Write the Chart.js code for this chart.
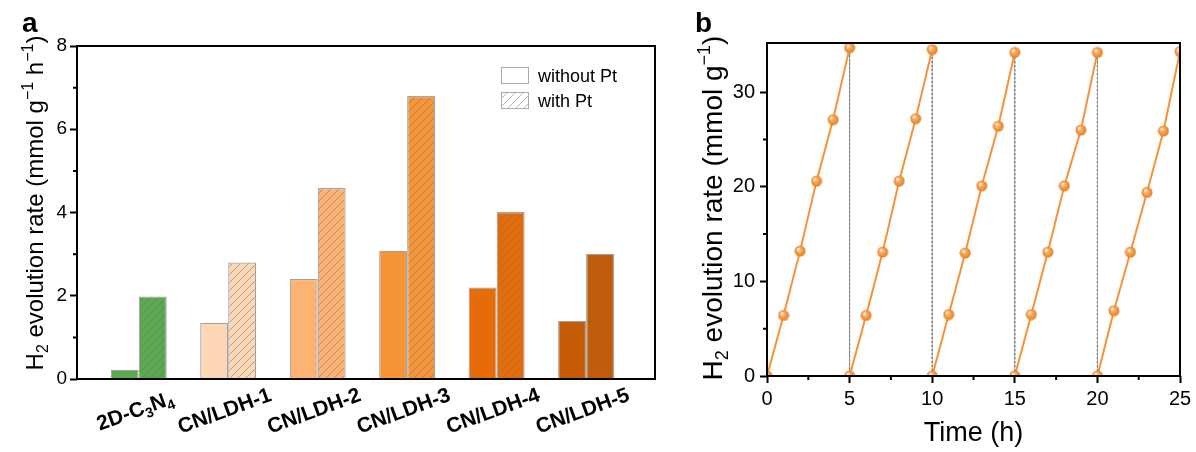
<!DOCTYPE html>
<html>
<head>
<meta charset="utf-8">
<script src="https://cdn.jsdelivr.net/npm/chart.js@4.4.0/dist/chart.umd.min.js"></script>
<style>
  html, body { margin: 0; padding: 0; background: #fff; }
  #wrap { position: relative; width: 1196px; height: 452px; }
  #ca { position: absolute; left: 0; top: 0; }
  #cb { position: absolute; left: 680px; top: 0; }
</style>
</head>
<body>
<div id="wrap">
  <canvas id="ca" width="680" height="452"></canvas>
  <canvas id="cb" width="516" height="452"></canvas>
</div>
<script>
// ---- panel a data ----
const categories = ['2D-C_{3}N_{4}', 'CN/LDH-1', 'CN/LDH-2', 'CN/LDH-3', 'CN/LDH-4', 'CN/LDH-5'];
const withoutPt = [0.22, 1.35, 2.40, 3.08, 2.20, 1.40];
const withPt = [1.98, 2.80, 4.59, 6.80, 4.01, 3.01];
const yMinorA = [1, 3, 5, 7];

// ---- panel b data ----
const cycleStart = [0, 5, 10, 15, 20];
const cycleHours = [0, 1, 2, 3, 4, 5];
const cycle1 = [0, 6.4, 13.2, 20.6, 27.1, 34.7];
const cycle2 = [0, 6.4, 13.1, 20.6, 27.2, 34.5];
const cycle3 = [0, 6.5, 13.0, 20.1, 26.4, 34.2];
const cycle4 = [0, 6.5, 13.1, 20.1, 26.0, 34.2];
const cycle5 = [0, 6.9, 13.1, 19.4, 25.9, 34.3];
const xTicksB = [0, 5, 10, 15, 20, 25];
const xMinorB = [2.5, 7.5, 12.5, 17.5, 22.5];
const yTicksB = [0, 10, 20, 30];
const yMinorB = [5, 15, 25];

const barColors = ['#5aa951', '#fdd6b5', '#fbb273', '#f59538', '#e66c0a', '#c55b05'];
const FAM = '"Liberation Sans", Arial, sans-serif';
Chart.defaults.font.family = FAM;
Chart.defaults.color = '#000';

// diagonal hatch fill for the "with Pt" bars
function hatch(color) {
  const c = document.createElement('canvas');
  c.width = c.height = 8;
  const g = c.getContext('2d');
  g.fillStyle = color;
  g.fillRect(0, 0, 8, 8);
  g.strokeStyle = 'rgba(110,110,110,0.5)';
  g.lineWidth = 1;
  g.beginPath();
  g.moveTo(0, 8); g.lineTo(8, 0);
  g.moveTo(-1, 1); g.lineTo(1, -1);
  g.moveTo(7, 9); g.lineTo(9, 7);
  g.stroke();
  return g.createPattern(c, 'repeat');
}

// text with _{sub} and ^{sup}
function drawRich(ctx, text, x, y, size, weight, align) {
  const parts = [];
  const re = /([_^])\{([^}]*)\}|([^_^]+)/g;
  let m;
  while ((m = re.exec(text))) parts.push(m[3] ? { t: m[3], k: '' } : { t: m[2], k: m[1] });
  const fontFor = k => `${weight} ${k ? Math.round(size * 0.66) : size}px ${FAM}`;
  let w = 0;
  parts.forEach(p => { ctx.font = fontFor(p.k); p.w = ctx.measureText(p.t).width; w += p.w; });
  let cx = align === 'center' ? x - w / 2 : x;
  ctx.textAlign = 'left';
  ctx.textBaseline = 'alphabetic';
  parts.forEach(p => {
    ctx.font = fontFor(p.k);
    const dy = p.k === '_' ? size * 0.22 : p.k === '^' ? -size * 0.42 : 0;
    ctx.fillText(p.t, cx, y + dy);
    cx += p.w;
  });
}

function minorTicks(ctx, scale, values, horizontal, area) {
  ctx.beginPath();
  values.forEach(v => {
    const p = scale.getPixelForValue(v);
    if (horizontal) { ctx.moveTo(p, area.bottom); ctx.lineTo(p, area.bottom + 4); }
    else { ctx.moveTo(area.left - 4, p); ctx.lineTo(area.left, p); }
  });
  ctx.stroke();
}

const decorA = {
  id: 'decorA',
  afterDraw(chart) {
    const { ctx, chartArea: a, scales: { x, y } } = chart;
    ctx.save();
    ctx.strokeStyle = '#000';
    ctx.lineWidth = 2;
    ctx.strokeRect(a.left, a.top, a.right - a.left, a.bottom - a.top);
    minorTicks(ctx, y, yMinorA, false, a);
    ctx.fillStyle = '#000';
    // category labels
    categories.forEach((c, i) => {
      ctx.save();
      ctx.translate(x.getPixelForValue(i) - 4, a.bottom + 31);
      ctx.rotate(-20 * Math.PI / 180);
      drawRich(ctx, c, 0, 7.5, 21, 'bold', 'center');
      ctx.restore();
    });
    // axis title
    ctx.save();
    ctx.translate(43, 203);
    ctx.rotate(-Math.PI / 2);
    drawRich(ctx, 'H_{2} evolution rate (mmol g^{−1} h^{−1})', 0, 0, 24, 'normal', 'center');
    ctx.restore();
    // panel letter
    drawRich(ctx, 'a', 22, 32, 28, 'bold', 'left');
    // legend
    ctx.lineWidth = 1;
    ctx.strokeStyle = '#ababab';
    ctx.fillStyle = '#fff';
    ctx.fillRect(501.5, 67.5, 27, 16);
    ctx.strokeRect(501.5, 67.5, 27, 16);
    ctx.fillStyle = hatch('#ffffff');
    ctx.fillRect(501.5, 92.5, 27, 16);
    ctx.strokeRect(501.5, 92.5, 27, 16);
    ctx.fillStyle = '#000';
    drawRich(ctx, 'without Pt', 538, 82, 18, 'normal', 'left');
    drawRich(ctx, 'with Pt', 538, 107, 18, 'normal', 'left');
    ctx.restore();
  }
};

new Chart(document.getElementById('ca'), {
  type: 'bar',
  data: {
    datasets: [
      {
        label: 'without Pt',
        data: withoutPt.map((v, i) => ({ x: i, y: v })),
        backgroundColor: barColors,
        borderColor: '#a3a3a3',
        borderWidth: 1.2,
        categoryPercentage: 0.626,
        barPercentage: 1
      },
      {
        label: 'with Pt',
        data: withPt.map((v, i) => ({ x: i, y: v })),
        backgroundColor: barColors.map(hatch),
        borderColor: '#a3a3a3',
        borderWidth: 1.2,
        categoryPercentage: 0.626,
        barPercentage: 1
      }
    ]
  },
  options: {
    responsive: false,
    animation: false,
    events: [],
    layout: { padding: { left: 0, top: 46, right: 25, bottom: 0 } },
    plugins: { legend: { display: false }, tooltip: { enabled: false } },
    scales: {
      x: {
        type: 'linear',
        min: -0.69,
        max: 5.77,
        offset: false,
        afterBuildTicks: s => { s.ticks = categories.map((c, i) => ({ value: i })); },
        grid: { display: false },
        border: { display: false },
        ticks: { display: false },
        afterFit: s => { s.height = 73; }
      },
      y: {
        min: 0,
        max: 8,
        ticks: { stepSize: 2, padding: 3, font: { size: 19 }, color: '#000' },
        grid: { drawOnChartArea: false, tickLength: 7, tickColor: '#000', tickWidth: 2 },
        border: { display: false },
        afterFit: s => { s.width = 77; }
      }
    }
  },
  plugins: [decorA]
});

// ---- panel b ----
function ball() {
  const c = document.createElement('canvas');
  c.width = c.height = 12;
  const g = c.getContext('2d');
  const grd = g.createRadialGradient(4.3, 4, 0.5, 6, 6, 6);
  grd.addColorStop(0, '#fff1dd');
  grd.addColorStop(0.35, '#f8a85a');
  grd.addColorStop(1, '#e07c1e');
  g.fillStyle = grd;
  g.beginPath();
  g.arc(6, 6, 5.5, 0, Math.PI * 2);
  g.fill();
  return c;
}

const cycles = [cycle1, cycle2, cycle3, cycle4, cycle5];
const pointsB = [];
cycles.forEach((c, k) => c.forEach((v, j) => pointsB.push({ x: cycleStart[k] + cycleHours[j], y: v })));
const vertical = ctx => ctx.p0.parsed.x === ctx.p1.parsed.x;
const ORANGE = '#f6923a';

const decorB = {
  id: 'decorB',
  afterDraw(chart) {
    const { ctx, chartArea: a, scales: { x, y } } = chart;
    ctx.save();
    ctx.strokeStyle = '#000';
    ctx.lineWidth = 2;
    ctx.strokeRect(a.left, a.top, a.right - a.left, a.bottom - a.top);
    minorTicks(ctx, y, yMinorB, false, a);
    minorTicks(ctx, x, xMinorB, true, a);
    ctx.fillStyle = '#000';
    ctx.save();
    ctx.translate(42, 208);
    ctx.rotate(-Math.PI / 2);
    drawRich(ctx, 'H_{2} evolution rate (mmol g^{−1})', 0, 0, 28, 'normal', 'center');
    ctx.restore();
    drawRich(ctx, 'b', 15, 32, 28, 'bold', 'left');
    ctx.restore();
  }
};

new Chart(document.getElementById('cb'), {
  type: 'line',
  data: {
    datasets: [{
      data: pointsB,
      borderColor: ORANGE,
      borderWidth: 2,
      pointStyle: ball(),
      clip: 0,
      segment: {
        borderColor: c => vertical(c) ? '#7a7a7a' : undefined,
        borderDash: c => vertical(c) ? [2, 2] : undefined,
        borderWidth: c => vertical(c) ? 1 : undefined
      }
    }]
  },
  options: {
    responsive: false,
    animation: false,
    events: [],
    layout: { padding: { left: 0, top: 43, right: 16, bottom: 0 } },
    plugins: { legend: { display: false }, tooltip: { enabled: false } },
    scales: {
      x: {
        type: 'linear',
        min: 0,
        max: 25,
        afterBuildTicks: s => { s.ticks = xTicksB.map(v => ({ value: v })); },
        ticks: { padding: 4, font: { size: 20 }, color: '#000', maxRotation: 0 },
        grid: { drawOnChartArea: false, tickLength: 7, tickColor: '#000', tickWidth: 2 },
        border: { display: false },
        title: { display: true, text: 'Time (h)', font: { size: 27 }, color: '#000', padding: { top: 0, bottom: 2 } },
        afterFit: s => { s.height = 76; }
      },
      y: {
        min: 0,
        max: 35.2,
        afterBuildTicks: s => { s.ticks = yTicksB.map(v => ({ value: v })); },
        ticks: { padding: 5, font: { size: 20 }, color: '#000' },
        grid: { drawOnChartArea: false, tickLength: 7, tickColor: '#000', tickWidth: 2 },
        border: { display: false },
        afterFit: s => { s.width = 87; }
      }
    }
  },
  plugins: [decorB]
});
</script>
</body>
</html>
